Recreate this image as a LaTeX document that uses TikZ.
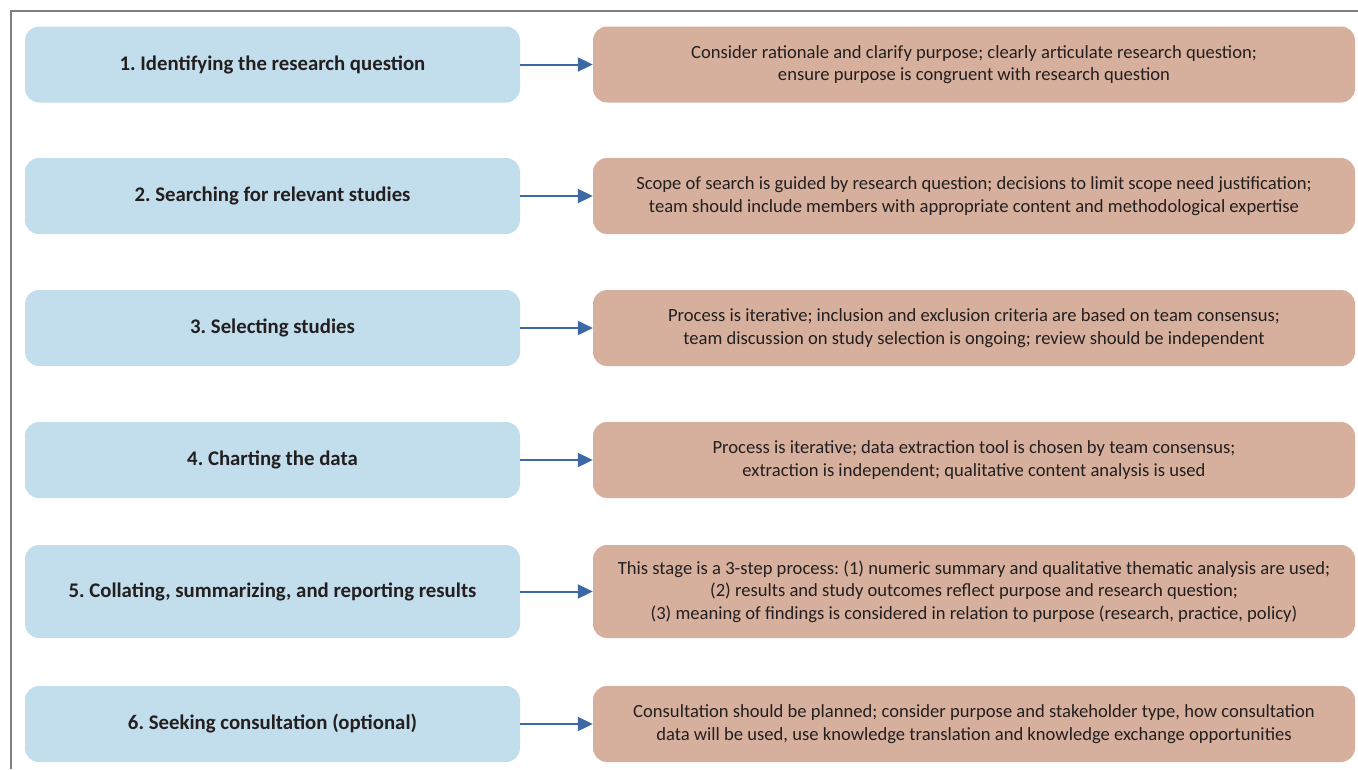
\documentclass[tikz,border=0pt]{standalone}
\usepackage{fontspec}
\setmainfont{Carlito}
\frenchspacing
\usetikzlibrary{arrows.meta}
\definecolor{stepblue}{HTML}{C2DDEB}
\definecolor{notetan}{HTML}{D6B09C}
\definecolor{arrowblue}{HTML}{3D68A6}
\definecolor{inkgray}{HTML}{231F20}
\definecolor{framegray}{HTML}{808080}
\begin{document}
\begin{tikzpicture}[x=1pt,y=-1pt,
  stagebox/.style={fill=stepblue, rounded corners=14pt, minimum width=495pt,
    minimum height=76pt, inner sep=0pt, text=inkgray, font=\fontsize{20.8}{25}\selectfont\bfseries},
  notebox/.style={fill=notetan, rounded corners=14pt, minimum width=762pt,
    minimum height=76pt, inner sep=0pt, text=inkgray, align=center,
    font=\fontsize{18.6}{22.5}\selectfont},
  link/.style={draw=arrowblue, line width=2pt, -{Triangle[length=15pt,width=14pt]}}]
\useasboundingbox (0,0) rectangle (1358,769);
% frame edges
\draw[framegray, line width=1.3pt] (11,769) -- (11,11) -- (1358,11);
% stages
\node[stagebox] (l1) at (272.5,64.5) {1. Identifying the research question};
\node[stagebox] (l2) at (272.5,196) {2. Searching for relevant studies};
\node[stagebox] (l3) at (272.5,328) {3. Selecting studies};
\node[stagebox] (l4) at (272.5,460) {4. Charting the data};
\node[stagebox, minimum height=93pt] (l5) at (272.5,591.5) {5. Collating, summarizing, and reporting results};
\node[stagebox] (l6) at (272.5,724) {6. Seeking consultation (optional)};
% notes
\node[notebox] (r1) at (974,64.5) {Consider rationale and clarify purpose; clearly articulate research question;\\ensure purpose is congruent with research question};
\node[notebox] (r2) at (974,196) {Scope of search is guided by research question; decisions to limit scope need justification;\\team should include members with appropriate content and methodological expertise};
\node[notebox] (r3) at (974,328) {Process is iterative; inclusion and exclusion criteria are based on team consensus;\\team discussion on study selection is ongoing; review should be independent};
\node[notebox] (r4) at (974,460) {Process is iterative; data extraction tool is chosen by team consensus;\\extraction is independent; qualitative content analysis is used};
\node[notebox, minimum height=93pt] (r5) at (974,591.5) {This stage is a 3-step process: (1) numeric summary and qualitative thematic analysis are used;\\(2) results and study outcomes reflect purpose and research question;\\(3) meaning of findings is considered in relation to purpose (research, practice, policy)};
\node[notebox] (r6) at (974,724) {Consultation should be planned; consider purpose and stakeholder type, how consultation\\data will be used, use knowledge translation and knowledge exchange opportunities};
% connectors
\foreach \i in {1,...,6} \draw[link] (l\i.east) -- (r\i.west);
\end{tikzpicture}
\end{document}
